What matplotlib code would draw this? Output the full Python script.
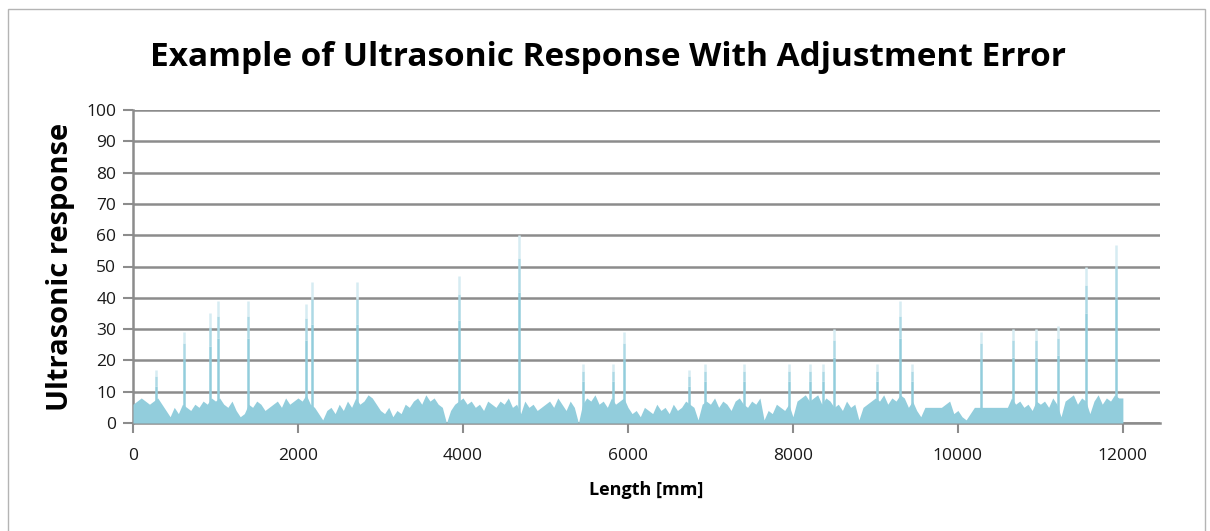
import numpy as np
import matplotlib.pyplot as plt
from matplotlib.patches import Rectangle

# baseline response, one value every 50 mm from 0 to 12000 mm
base_step = 50
base_vals = [
    6, 7, 8, 7, 6, 7, 8, 6, 4, 2, 5, 3, 6, 5, 4, 6, 5, 7, 6, 8,
    7, 8, 6, 5, 7, 4, 2, 3, 6, 5, 7, 6, 4, 5, 6, 7, 5, 8, 6, 7,
    8, 7, 9, 6, 5, 3, 1, 4, 5, 3, 6, 4, 7, 5, 8, 6, 7, 9, 8, 6,
    4, 3, 5, 2, 4, 3, 6, 5, 7, 8, 6, 9, 7, 8, 6, 5, 0, 4, 6, 7,
    8, 6, 7, 5, 6, 4, 7, 6, 5, 7, 6, 8, 5, 6, 3, 7, 5, 6, 4, 5,
    6, 7, 5, 8, 6, 4, 7, 5, 0, 6, 8, 7, 9, 6, 7, 5, 8, 6, 7, 8,
    5, 3, 4, 2, 5, 4, 3, 6, 4, 5, 3, 6, 4, 5, 7, 6, 5, 1, 6, 7,
    6, 8, 5, 7, 6, 4, 7, 8, 6, 5, 7, 6, 8, 1, 4, 3, 6, 5, 4, 6,
    2, 7, 8, 9, 7, 8, 9, 6, 8, 7, 5, 6, 4, 7, 5, 6, 1, 5, 6, 7,
    8, 7, 9, 6, 8, 7, 9, 8, 5, 7, 4, 2, 5, 5, 5, 5, 5, 6, 7, 3,
    4, 2, 1, 3, 5, 5, 5, 5, 5, 5, 5, 5, 5, 8, 6, 7, 5, 6, 4, 7,
    6, 7, 5, 8, 6, 2, 7, 8, 9, 6, 8, 7, 3, 7, 9, 6, 8, 7, 9, 8,
    8,
]

# narrow peaks (position in mm, response)
spike_pos = [283, 615, 930, 1031, 1394, 2094, 2175, 2720, 3953, 4680,
             5456, 5820, 5953, 6738, 6936, 7401, 7947, 8205, 8359, 8500,
             9014, 9296, 9438, 10282, 10663, 10942, 11216, 11552, 11915]
spike_val = [17, 29, 35, 39, 39, 38, 45, 45, 47, 60,
             19, 19, 29, 17, 19, 19, 19, 19, 19, 30,
             19, 39, 19, 29, 30, 30, 31, 50, 57]

x_ticks = [0, 2000, 4000, 6000, 8000, 10000, 12000]
y_ticks = list(range(0, 101, 10))

fill_col = "#92cddc"
grid_col = "#8c8c8c"
label_font = ["Open Sans", "DejaVu Sans"]

fig = plt.figure(figsize=(12.1, 5.31), dpi=100)
fig.patches.append(Rectangle((8 / 1210, -0.1), (1205 - 8) / 1210, 1.1 - 9 / 531,
                             transform=fig.transFigure, fill=False,
                             edgecolor="#b4b4b4", linewidth=1))

ax = fig.add_axes([133 / 1210, 1 - 423 / 531, 1027 / 1210, 313 / 531])

bx = np.arange(len(base_vals)) * base_step
ax.fill_between(bx, base_vals, 0, color=fill_col, linewidth=0, zorder=3)

# peaks: solid lower part, fading towards the tip
sp = np.array(spike_pos)
sv = np.array(spike_val)
ax.vlines(sp, 0, sv * 0.7, color=fill_col, linewidth=1.8, zorder=3)
ax.vlines(sp, sv * 0.7, sv * 0.88, color="#add9e5", linewidth=1.8, zorder=3)
ax.vlines(sp, sv * 0.88, sv, color="#d6ecf2", linewidth=1.8, zorder=3)

ax.set_xlim(0, 12450)
ax.set_ylim(0, 100)
ax.set_xticks(x_ticks)
ax.set_yticks(y_ticks)
ax.yaxis.grid(True, color=grid_col, linewidth=1.8, zorder=1)
ax.set_axisbelow(True)
for s in ["top", "right"]:
    ax.spines[s].set_visible(False)
for s in ["left", "bottom"]:
    ax.spines[s].set_color(grid_col)
    ax.spines[s].set_linewidth(1.8)
    ax.spines[s].set_zorder(2)
ax.tick_params(axis="both", colors=grid_col, width=1.5, length=7,
               labelcolor="#1a1a1a", labelsize=12.5)
ax.tick_params(axis="x", pad=11)
ax.tick_params(axis="y", pad=5)
for lab in ax.get_xticklabels() + ax.get_yticklabels():
    lab.set_family(label_font)

ax.set_xlabel("Length [mm]", fontsize=13, fontweight="bold",
              family=label_font, labelpad=12)
ax.set_ylabel("Ultrasonic response", fontsize=21, fontweight="bold",
              family=label_font, labelpad=8)
fig.text(608 / 1210, 1 - 57 / 531,
         "Example of Ultrasonic Response With Adjustment Error",
         ha="center", va="center", fontsize=24, fontweight="bold",
         family=label_font)

fig.savefig("out.png", dpi=100)
